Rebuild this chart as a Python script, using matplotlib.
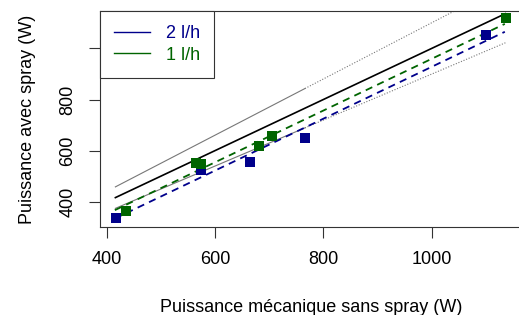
import matplotlib
matplotlib.use("Agg")
import matplotlib.pyplot as plt

plt.rcParams['font.family'] = ['Liberation Sans', 'DejaVu Sans']

# mesures (W)
blue_x = [417, 574, 665, 766, 1100]      # 2 l/h
blue_y = [337, 524, 554, 650, 1054]
green_x = [435, 565, 574, 682, 705, 1137]  # 1 l/h
green_y = [364, 550, 546, 619, 658, 1118]

# droites
ref_x = [416, 1136]
ref_y = [416, 1136]
up_solid_x = [416, 766]
up_solid_y = [458, 843]
up_dot_x = [766, 1136]
up_dot_y = [843, 1250]
lo_solid_x = [416, 766]
lo_solid_y = [374, 689]
lo_dot_x = [766, 1136]
lo_dot_y = [689, 1022]
fit_green_x = [415, 1135]
fit_green_y = [367, 1096]
fit_blue_x = [415, 1135]
fit_blue_y = [334, 1065]

x_ticks = [400, 600, 800, 1000]
y_ticks = [400, 600, 800, 1000]
y_ticklabels = ['400', '600', '800', '']

BLUE = '#00008B'
GREEN = '#006400'

fig = plt.figure(figsize=(5.19, 3.15), dpi=100)
ax = fig.add_axes([100/519, 1 - 227/315, 429/519, 216/315])

ax.plot(ref_x, ref_y, color='black', lw=1.2)
ax.plot(up_solid_x, up_solid_y, color='#777777', lw=0.8)
ax.plot(up_dot_x, up_dot_y, color='#777777', lw=0.8, ls=(0, (1, 1.5)))
ax.plot(lo_solid_x, lo_solid_y, color='#777777', lw=0.8)
ax.plot(lo_dot_x, lo_dot_y, color='#777777', lw=0.8, ls=(0, (1, 1.5)))
ax.plot(fit_green_x, fit_green_y, color=GREEN, lw=1.3, ls=(0, (4, 3)))
ax.plot(fit_blue_x, fit_blue_y, color=BLUE, lw=1.3, ls=(0, (4, 3)))

ax.plot(blue_x, blue_y, 's', color=BLUE, ms=7.5, mew=0)
ax.plot(green_x, green_y, 's', color=GREEN, ms=7.5, mew=0)

ax.set_xlim(387.6, 1179.6)
ax.set_ylim(301, 1146.4)
ax.set_xticks(x_ticks)
ax.set_yticks(y_ticks)
ax.set_yticklabels(y_ticklabels, rotation=90, va='center')
ax.tick_params(direction='out', length=8, width=0.8, labelsize=13, color='#333333')
ax.tick_params(axis='x', pad=9)
ax.tick_params(axis='y', pad=9)
for s in ax.spines.values():
    s.set_linewidth(0.8)
    s.set_color('#333333')

ax.set_xlabel('Puissance mécanique sans spray (W)', fontsize=13, va='center')
ax.set_ylabel('Puissance avec spray (W)', fontsize=13)
ax.xaxis.set_label_coords((311 - 100) / 429, -80 / 216)
ax.yaxis.set_label_coords(-64 / 429, 0.5)

h1, = ax.plot([], [], color=BLUE, lw=1.0)
h2, = ax.plot([], [], color=GREEN, lw=1.0)
leg = ax.legend([h1, h2], ['2 l/h', '1 l/h'], loc='upper left',
                bbox_to_anchor=(0, 1), borderaxespad=0, fancybox=False,
                edgecolor='#333333', framealpha=1, fontsize=13,
                handlelength=2.0, handletextpad=0.85, labelspacing=0.25,
                borderpad=0.78, labelcolor=[BLUE, GREEN])
leg.get_frame().set_linewidth(0.8)

fig.savefig('out.png', dpi=100)
